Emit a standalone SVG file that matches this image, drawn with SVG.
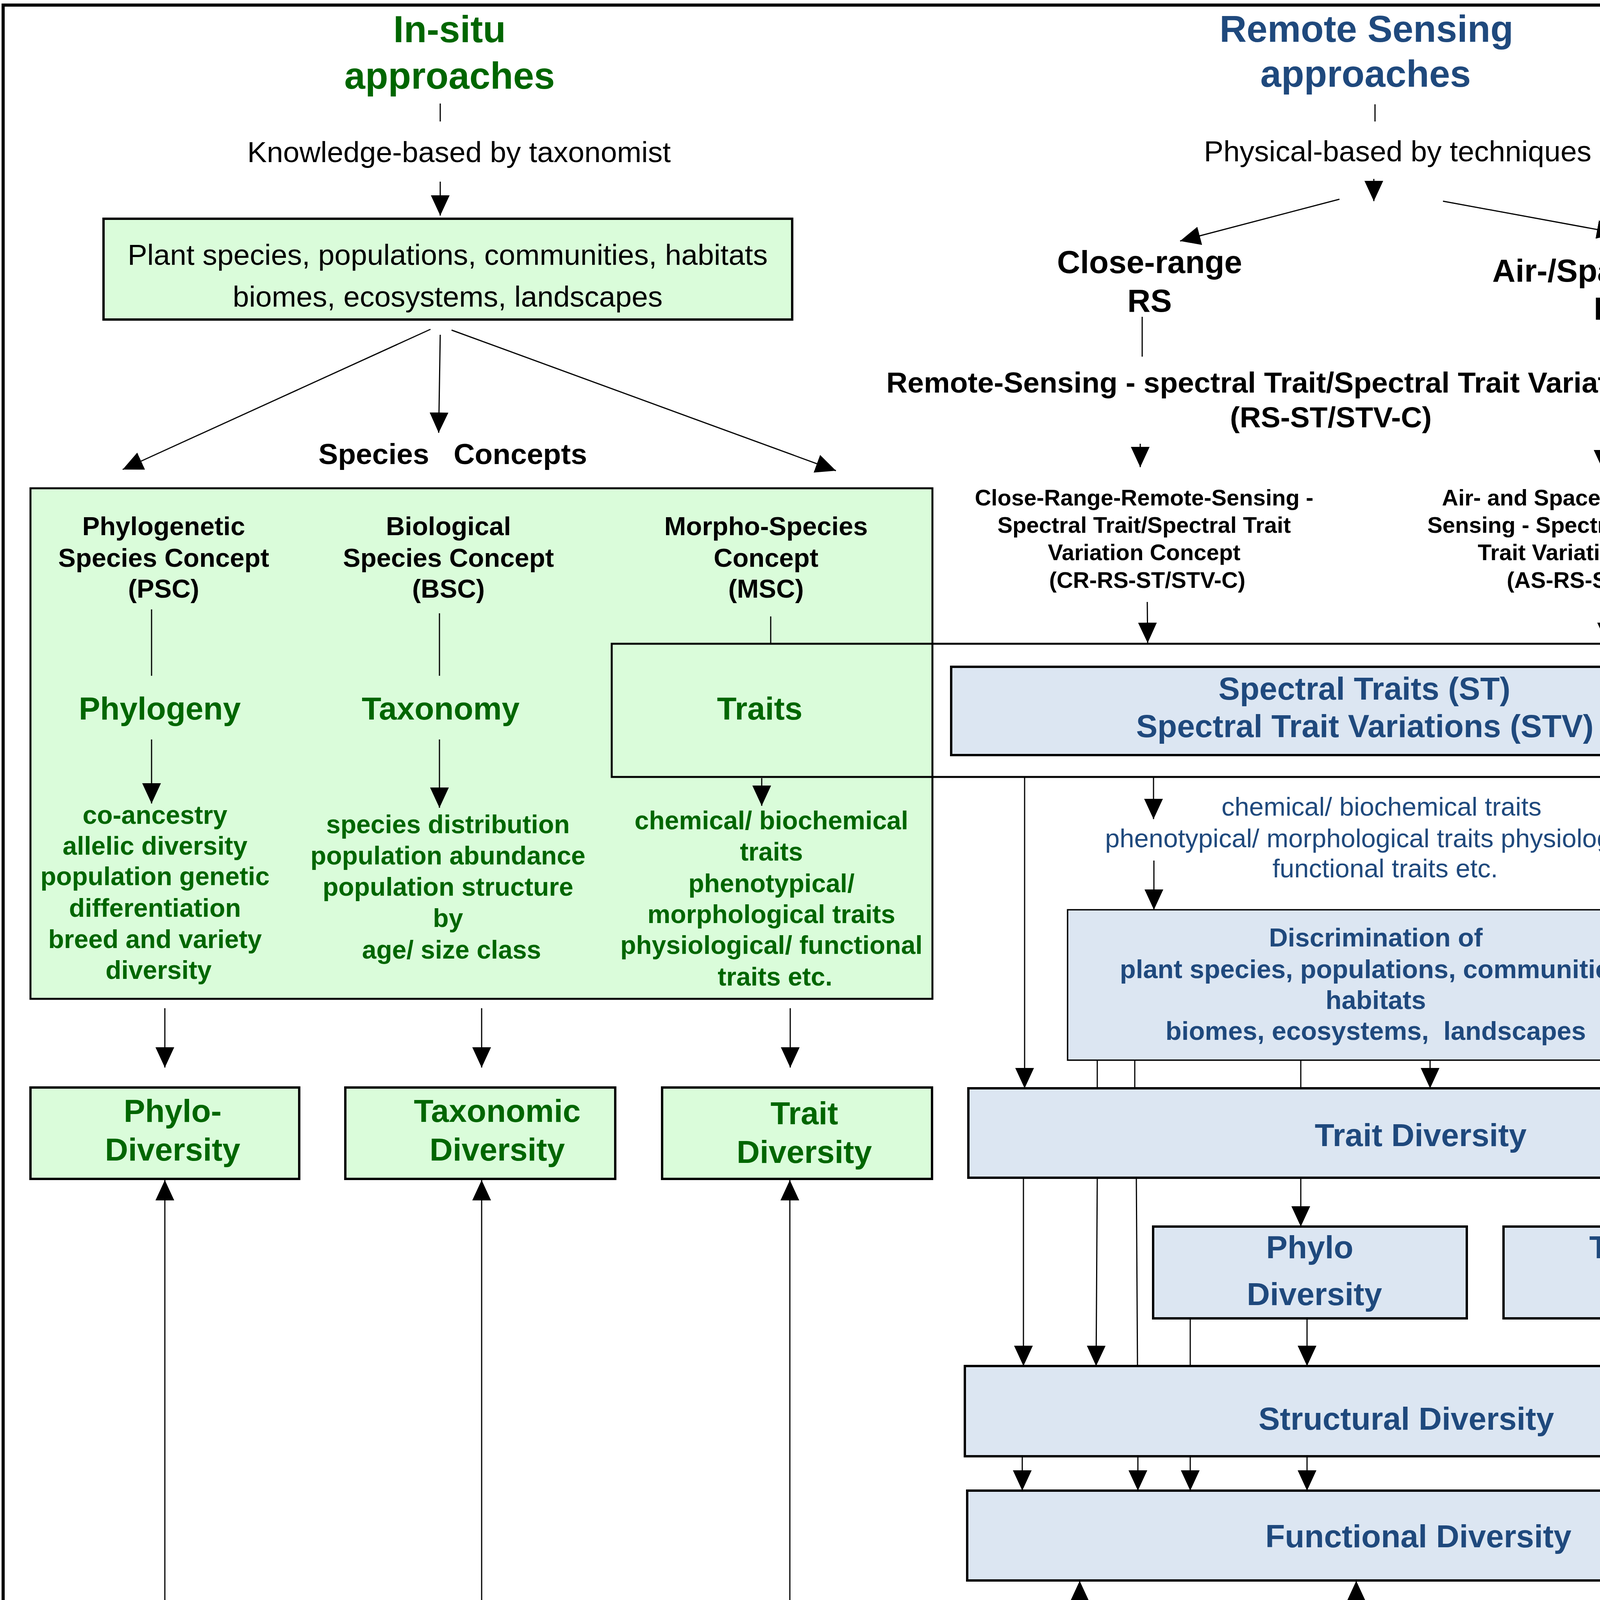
<svg xmlns="http://www.w3.org/2000/svg" width="6000" height="4500" viewBox="0 0 6000 4500">
<style>
text{font-family:"Liberation Sans",Arial,sans-serif}
.b{font-weight:bold}
.c{text-anchor:middle}
.g{fill:#006600}
.bl{fill:#1F497D}
.k{fill:#000}
.m{fill:#990033}
.h{font-size:96px}
.s75{font-size:75px}
.s67{font-size:67px}
.s66{font-size:66px}
.s82{font-size:82px}
.s58{font-size:58px}
.gbox{fill:#DAFCDA;stroke:#000;stroke-width:6}
.bbox{fill:#DCE6F2;stroke:#000;stroke-width:6}
.brace{fill:none;stroke:#000;stroke-width:6}
.bul{fill:#000}
</style>
<defs>
<marker id="ah" markerUnits="userSpaceOnUse" markerWidth="52" markerHeight="48" refX="52" refY="24" orient="auto" viewBox="0 0 52 48">
<path d="M0,0 L52,24 L0,48 z" fill="#000"/>
</marker>
</defs>
<rect x="0" y="0" width="6000" height="4500" fill="#fff"/>
<rect id="frame" x="8" y="13" width="5974" height="4446" fill="none" stroke="#000" stroke-width="8"/>

<!-- In-situ side -->
<g id="insitu-title">
<text x="1151" y="108" class="b c g h">In-situ</text>
<text x="1151" y="227" class="b c g h">approaches</text>
</g>
<g id="knowledge">
<text x="1175" y="415" class="c k s75">Knowledge-based by taxonomist</text>
</g>
<g id="plant-box">
<rect x="265" y="560" width="1763" height="258" class="gbox"/>
<text x="1146" y="678" class="c k s75">Plant species, populations, communities, habitats</text>
<text x="1146" y="785" class="c k s75">biomes, ecosystems, landscapes</text>
</g>
<g id="species-concepts">
<text x="1159" y="1188" class="b c k s75" xml:space="preserve">Species   Concepts</text>
</g>
<g id="concepts-box">
<rect x="78" y="1250" width="2309" height="1307" fill="#DAFCDA" stroke="#000" stroke-width="5"/>
</g>
<g id="traits-frame">
<rect x="1566" y="1648" width="3030" height="341" fill="none" stroke="#000" stroke-width="5"/>
</g>
<g id="psc">
<text x="419" y="1370" class="b c k s67">Phylogenetic</text>
<text x="419" y="1451" class="b c k s67">Species Concept</text>
<text x="419" y="1530" class="b c k s67">(PSC)</text>
<text x="409" y="1842" class="b c g s82">Phylogeny</text>
<text class="b c g s66">
<tspan x="406" y="2109">co-ancestry</tspan>
<tspan x="406" y="2188">allelic diversity</tspan>
<tspan x="406" y="2266">population genetic</tspan>
<tspan x="406" y="2347">differentiation</tspan>
<tspan x="406" y="2427">breed and variety</tspan>
<tspan x="406" y="2506">diversity</tspan>
</text>
</g>
<g id="bsc">
<text x="1148" y="1370" class="b c k s67">Biological</text>
<text x="1148" y="1451" class="b c k s67">Species Concept</text>
<text x="1148" y="1530" class="b c k s67">(BSC)</text>
<text x="1128" y="1842" class="b c g s82">Taxonomy</text>
<text class="b c g s66">
<tspan x="1156" y="2133">species distribution</tspan>
<tspan x="1156" y="2213">population abundance</tspan>
<tspan x="1156" y="2293">population structure</tspan>
<tspan x="1156" y="2373">by</tspan>
<tspan x="1156" y="2454">age/ size class</tspan>
</text>
</g>
<g id="msc">
<text x="1961" y="1370" class="b c k s67">Morpho-Species</text>
<text x="1961" y="1451" class="b c k s67">Concept</text>
<text x="1961" y="1530" class="b c k s67">(MSC)</text>
<text x="1945" y="1842" class="b c g s82">Traits</text>
<text class="b c g s66">
<tspan x="1984" y="2123">chemical/ biochemical</tspan>
<tspan x="1984" y="2203">traits</tspan>
<tspan x="1984" y="2284">phenotypical/</tspan>
<tspan x="1984" y="2363">morphological traits</tspan>
<tspan x="1984" y="2442">physiological/ functional</tspan>
<tspan x="1984" y="2523">traits etc.</tspan>
</text>
</g>
<g id="phylo-div-insitu">
<rect x="78" y="2784" width="688" height="234" class="gbox"/>
<text x="442" y="2872" class="b c g s82">Phylo-</text>
<text x="442" y="2971" class="b c g s82">Diversity</text>
</g>
<g id="tax-div-insitu">
<rect x="884" y="2784" width="691" height="234" class="gbox"/>
<text x="1273" y="2872" class="b c g s82">Taxonomic</text>
<text x="1273" y="2971" class="b c g s82">Diversity</text>
</g>
<g id="trait-div-insitu">
<rect x="1695" y="2784" width="691" height="234" class="gbox"/>
<text x="2059" y="2878" class="b c g s82">Trait</text>
<text x="2059" y="2977" class="b c g s82">Diversity</text>
</g>
<g id="status">
<rect x="83" y="4152" width="4558" height="225" fill="#E6B9B8" stroke="#000" stroke-width="6"/>
<text x="2470" y="4305" class="b c m" font-size="91">Status, Processes, Stress, Disturbances &amp; Resource Limitations</text>
</g>

<!-- Remote sensing side -->
<g id="rs-title">
<text x="3498" y="107" class="b c bl h">Remote Sensing</text>
<text x="3496" y="222" class="b c bl h">approaches</text>
</g>
<g id="physical">
<text x="3578" y="413" class="c k s75">Physical-based by techniques</text>
</g>
<g id="close-range">
<text x="2943" y="699" class="b c k s82">Close-range</text>
<text x="2943" y="798" class="b c k s82">RS</text>
</g>
<g id="airspace">
<text x="4137" y="721" class="b c k s82">Air-/Spaceborne</text>
<text x="4137" y="818" class="b c k s82">RS</text>
</g>
<g id="rs-concept">
<text x="3409" y="1005" class="b c k s75">Remote-Sensing - spectral Trait/Spectral Trait Variation Concept</text>
<text x="3407" y="1094" class="b c k s75">(RS-ST/STV-C)</text>
</g>
<g id="cr-concept">
<text class="b c k s58">
<tspan x="2937" y="1294">Close-Range-Remote-Sensing -</tspan>
<tspan x="2937" y="1364">Spectral Trait/Spectral Trait</tspan>
<tspan x="2937" y="1434">Variation Concept</tspan>
<tspan x="2937" y="1505">(CR-RS-ST/STV-C)</tspan>
</text>
</g>
<g id="as-concept">
<text class="b c k s58">
<tspan x="4107" y="1294">Air- and Spaceborne Remote-</tspan>
<tspan x="4107" y="1364">Sensing - Spectral Trait/Spectral</tspan>
<tspan x="4107" y="1434">Trait Variation Concept</tspan>
<tspan x="4107" y="1505">(AS-RS-ST/STV-C)</tspan>
</text>
</g>
<g id="spectral-traits">
<rect x="2435" y="1707" width="2105" height="226" class="bbox"/>
<text x="3493" y="1791" class="b c bl s82">Spectral Traits (ST)</text>
<text x="3494" y="1887" class="b c bl s82">Spectral Trait Variations (STV)</text>
</g>
<g id="trait-list-rs">
<text class="c bl s67">
<tspan x="3546" y="2088">chemical/ biochemical traits</tspan>
<tspan x="3546" y="2169">phenotypical/ morphological traits physiological/</tspan>
<tspan x="3546" y="2246">functional traits etc.</tspan>
</text>
</g>
<g id="discrimination">
<rect x="2733" y="2329" width="1577" height="385" fill="#DCE6F2" stroke="#000" stroke-width="3.5"/>
<text class="b c bl s67" xml:space="preserve"><tspan x="3522" y="2423">Discrimination of</tspan><tspan x="3522" y="2504">plant species, populations, communities,</tspan><tspan x="3522" y="2583">habitats</tspan><tspan x="3522" y="2662">biomes, ecosystems,  landscapes</tspan></text>
</g>
<g id="trait-div-rs">
<rect x="2479" y="2786" width="2173" height="229" class="bbox"/>
<text x="3637" y="2934" class="b c bl s82">Trait Diversity</text>
</g>
<g id="phylo-div-rs">
<rect x="2952" y="3140" width="803" height="235" class="bbox"/>
<text x="3353" y="3221" class="b c bl s82">Phylo</text>
<text x="3365" y="3341" class="b c bl s82">Diversity</text>
</g>
<g id="tax-div-rs">
<rect x="3849" y="3140" width="800" height="235" class="bbox"/>
<text x="4282" y="3221" class="b c bl s82">Taxonomic</text>
<text x="4282" y="3341" class="b c bl s82">Diversity</text>
</g>
<g id="structural-div">
<rect x="2470" y="3497" width="2171" height="231" class="bbox"/>
<text x="3600" y="3660" class="b c bl s82">Structural Diversity</text>
</g>
<g id="functional-div">
<rect x="2476" y="3816" width="2161" height="230" class="bbox"/>
<text x="3631" y="3961" class="b c bl s82">Functional Diversity</text>
</g>

<!-- Constraints column -->
<g id="constraints-title">
<text x="5305" y="117" class="b c k s82">Constraints of RS</text>
<text x="5303" y="218" class="b c k s82">for monitoring forest health</text>
</g>
<g id="braces">
<path class="brace" d="M4874,305 C4800,307 4770,318 4770,365 L4770,930 C4770,952 4720,960 4670,960 C4720,960 4770,968 4770,990 L4770,1552 C4770,1600 4800,1610 4874,1612"/>
<path class="brace" d="M4874,1683 C4800,1685 4770,1696 4770,1743 L4770,2183 C4770,2205 4720,2213 4672,2213 C4720,2213 4770,2221 4770,2243 L4770,2671 C4770,2719 4800,2729 4874,2731"/>
<path class="brace" d="M4874,2786 C4800,2788 4770,2799 4770,2846 L4770,3265 C4770,3287 4715,3295 4660,3295 C4715,3295 4770,3303 4770,3325 L4770,3753 C4770,3801 4800,3811 4874,3813"/>
<path class="brace" d="M4872,3837 C4805,3839 4786,3850 4786,3890 L4786,4240 C4786,4262 4740,4270 4692,4270 C4740,4270 4786,4278 4786,4300 L4786,4350 C4786,4388 4805,4394 4872,4396"/>
</g>
<g id="sensors">
<text x="4853" y="397" class="b k s66">Characteristics of remote sensing</text>
<text x="4853" y="473" class="b k s66">sensors</text>
<rect class="bul" x="4858" y="595" width="16" height="16"/>
<rect class="bul" x="4858" y="675" width="16" height="16"/>
<rect class="bul" x="4858" y="755" width="16" height="16"/>
<rect class="bul" x="4858" y="836" width="16" height="16"/>
<rect class="bul" x="4858" y="916" width="16" height="16"/>
<text class="k s66">
<tspan x="5042" y="621">Spatial resolution</tspan>
<tspan x="5042" y="701">Spectral resolution</tspan>
<tspan x="5042" y="781">Radiometric resolution</tspan>
<tspan x="5042" y="862">Temporal resolution</tspan>
<tspan x="5042" y="942">Angular resolution</tspan>
</text>
</g>
<g id="classification">
<text x="4853" y="1080" class="b k s66" xml:space="preserve">Characteristics  of  classification</text>
<text x="4853" y="1159" class="b k s66">approaches</text>
<rect class="bul" x="4858" y="1278" width="16" height="16"/>
<rect class="bul" x="4858" y="1358" width="16" height="16"/>
<rect class="bul" x="4858" y="1438" width="16" height="16"/>
<text class="k s66">
<tspan x="5042" y="1304">Pixel-based</tspan>
<tspan x="5042" y="1384">Spectral-based</tspan>
<tspan x="5042" y="1464">Geographic objects based</tspan>
<tspan x="5042" y="1545">- GEOBIA</tspan>
</text>
</g>
<g id="composition">
<text class="b k s66" xml:space="preserve"><tspan x="4853" y="1832">Characteristics of  composition &amp;</tspan><tspan x="4853" y="1910">configuration of</tspan><tspan x="4853" y="1995">Spectral Traits (ST) / Spectral Trait</tspan><tspan x="4853" y="2073">Variation (STV)</tspan></text>
<rect class="bul" x="4858" y="2209" width="16" height="16"/>
<rect class="bul" x="4858" y="2287" width="16" height="16"/>
<rect class="bul" x="4858" y="2369" width="16" height="16"/>
<rect class="bul" x="4858" y="2447" width="16" height="16"/>
<rect class="bul" x="4858" y="2527" width="16" height="16"/>
<rect class="bul" x="4858" y="2606" width="16" height="16"/>
<text class="k s66">
<tspan x="5042" y="2235">Compostion</tspan>
<tspan x="5042" y="2313">Configuration</tspan>
<tspan x="5042" y="2395">Abundance</tspan>
<tspan x="5042" y="2473">2D/3D structure</tspan>
<tspan x="5042" y="2553">Patterns</tspan>
<tspan x="5042" y="2632">Heterogeneity</tspan>
</text>
</g>
<g id="diversity-char">
<text x="4837" y="3119" class="b k s66" xml:space="preserve">Characteristics  of  diversity</text>
<rect class="bul" x="4841" y="3238" width="16" height="16"/>
<rect class="bul" x="4841" y="3318" width="16" height="16"/>
<rect class="bul" x="4841" y="3398" width="16" height="16"/>
<rect class="bul" x="4841" y="3478" width="16" height="16"/>
<rect class="bul" x="4841" y="3556" width="16" height="16"/>
<text class="k s66">
<tspan x="5027" y="3264">Phylo - Diversity</tspan>
<tspan x="5027" y="3344">Taxonomic Diversity</tspan>
<tspan x="5027" y="3424">Trait Diversity</tspan>
<tspan x="5027" y="3504">Structural diversity</tspan>
<tspan x="5027" y="3582">Functional Diversity</tspan>
</text>
</g>
<g id="processes-char">
<text class="b k s66" xml:space="preserve"><tspan x="4837" y="3970">Characteristics of  processes,</tspan><tspan x="4837" y="4052">stress, disturbances and resource</tspan><tspan x="4837" y="4131">limitations</tspan></text>
<rect class="bul" x="4844" y="4245" width="16" height="16"/>
<rect class="bul" x="4844" y="4326" width="16" height="16"/>
<text class="k s66">
<tspan x="5027" y="4271">Scope, length, intensity</tspan>
<tspan x="5027" y="4352">consistency, dominance,</tspan>
<tspan x="5027" y="4432">overlay</tspan>
</text>
</g>

<g id="connectors" stroke="#000" stroke-width="3" fill="none">
<!-- in-situ -->
<line x1="1127" y1="265" x2="1127" y2="311"/>
<line x1="1127" y1="465" x2="1127" y2="552" marker-end="url(#ah)"/>
<line x1="1127" y1="857" x2="1123" y2="1108" marker-end="url(#ah)"/>
<line x1="1102" y1="843" x2="314" y2="1202" marker-end="url(#ah)"/>
<line x1="1156" y1="845" x2="2140" y2="1205" marker-end="url(#ah)"/>
<line x1="388" y1="1560" x2="388" y2="1730"/>
<line x1="1125" y1="1570" x2="1125" y2="1730"/>
<line x1="1973" y1="1578" x2="1973" y2="1648"/>
<line x1="388" y1="1893" x2="388" y2="2057" marker-end="url(#ah)"/>
<line x1="1125" y1="1893" x2="1125" y2="2068" marker-end="url(#ah)"/>
<line x1="1950" y1="1992" x2="1950" y2="2063" marker-end="url(#ah)"/>
<line x1="422" y1="2581" x2="422" y2="2733" marker-end="url(#ah)"/>
<line x1="1233" y1="2581" x2="1233" y2="2733" marker-end="url(#ah)"/>
<line x1="2023" y1="2581" x2="2023" y2="2733" marker-end="url(#ah)"/>
<line x1="422" y1="4152" x2="422" y2="3021" marker-end="url(#ah)"/>
<line x1="1233" y1="4152" x2="1233" y2="3021" marker-end="url(#ah)"/>
<line x1="2022" y1="4152" x2="2022" y2="3021" marker-end="url(#ah)"/>
<!-- remote sensing -->
<line x1="3520" y1="267" x2="3520" y2="311"/>
<line x1="3517" y1="458" x2="3517" y2="515" marker-end="url(#ah)"/>
<line x1="3429" y1="510" x2="3021" y2="617" marker-end="url(#ah)"/>
<line x1="3694" y1="515" x2="4140" y2="597" marker-end="url(#ah)"/>
<line x1="2924" y1="811" x2="2924" y2="913"/>
<line x1="4104" y1="847" x2="4104" y2="913"/>
<line x1="2919" y1="1136" x2="2919" y2="1196" marker-end="url(#ah)"/>
<line x1="4104" y1="1136" x2="4104" y2="1204" marker-end="url(#ah)"/>
<line x1="2937" y1="1541" x2="2938" y2="1646" marker-end="url(#ah)"/>
<line x1="4113" y1="1541" x2="4113" y2="1646" marker-end="url(#ah)"/>
<line x1="2623" y1="1989" x2="2623" y2="2786" marker-end="url(#ah)"/>
<line x1="2953" y1="1989" x2="2953" y2="2097" marker-end="url(#ah)"/>
<line x1="4122" y1="1989" x2="4122" y2="2097" marker-end="url(#ah)"/>
<line x1="4410" y1="1989" x2="4410" y2="2786" marker-end="url(#ah)"/>
<line x1="2954" y1="2203" x2="2954" y2="2329" marker-end="url(#ah)"/>
<line x1="4137" y1="2215" x2="4137" y2="2329" marker-end="url(#ah)"/>
<line x1="2809" y1="2714" x2="2809" y2="2786"/>
<line x1="2905" y1="2714" x2="2905" y2="2786"/>
<line x1="3330" y1="2714" x2="3330" y2="2786"/>
<line x1="4229" y1="2714" x2="4229" y2="2786"/>
<line x1="3661" y1="2714" x2="3661" y2="2786" marker-end="url(#ah)"/>
<line x1="2620" y1="3015" x2="2620" y2="3497" marker-end="url(#ah)"/>
<line x1="2809" y1="3015" x2="2806" y2="3497" marker-end="url(#ah)"/>
<line x1="2909" y1="3015" x2="2912" y2="3497"/>
<line x1="3330" y1="3015" x2="3330" y2="3140" marker-end="url(#ah)"/>
<line x1="4229" y1="3015" x2="4229" y2="3136" marker-end="url(#ah)"/>
<line x1="3047" y1="3375" x2="3047" y2="3497"/>
<line x1="3346" y1="3375" x2="3346" y2="3497" marker-end="url(#ah)"/>
<line x1="4225" y1="3375" x2="4225" y2="3497" marker-end="url(#ah)"/>
<line x1="4417" y1="3375" x2="4417" y2="3497"/>
<line x1="2617" y1="3728" x2="2617" y2="3816" marker-end="url(#ah)"/>
<line x1="2913" y1="3728" x2="2913" y2="3816" marker-end="url(#ah)"/>
<line x1="3047" y1="3728" x2="3047" y2="3816" marker-end="url(#ah)"/>
<line x1="3346" y1="3728" x2="3346" y2="3816" marker-end="url(#ah)"/>
<line x1="4226" y1="3728" x2="4226" y2="3816" marker-end="url(#ah)"/>
<line x1="4418" y1="3728" x2="4418" y2="3816" marker-end="url(#ah)"/>
<line x1="2764" y1="4152" x2="2764" y2="4047" marker-end="url(#ah)"/>
<line x1="3472" y1="4152" x2="3472" y2="4047" marker-end="url(#ah)"/>
<line x1="4134" y1="4152" x2="4134" y2="4047" marker-end="url(#ah)"/>
</g>
</svg>
